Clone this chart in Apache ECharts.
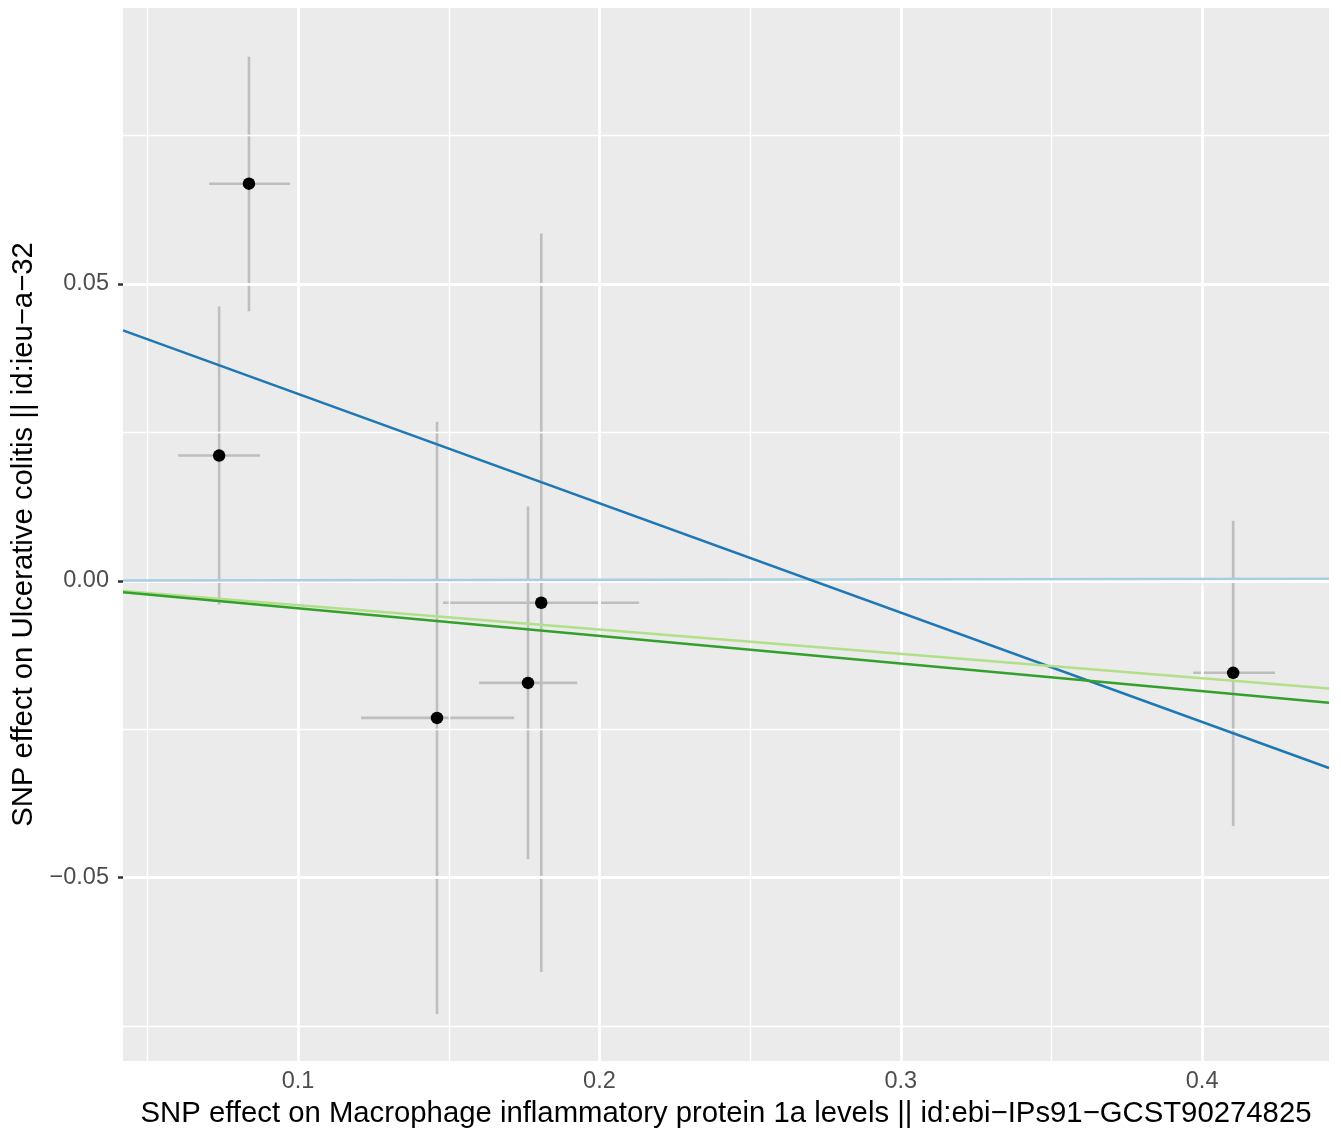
<!DOCTYPE html>
<html>
<head>
<meta charset="utf-8">
<script src="https://cdn.jsdelivr.net/npm/echarts@6/dist/echarts.min.js"></script>
<style>
  html, body { margin: 0; padding: 0; background: #ffffff; }
  #chart_container { width: 1341px; height: 1135px; }
</style>
</head>
<body>
<div id="chart_container"></div>
<script>
"use strict";

// SNP estimates
const snpX  = [0.0837, 0.0738, 0.1461, 0.1763, 0.1807, 0.4103];
const snpY  = [0.0669, 0.0211, -0.0231, -0.0172, -0.0037, -0.0155];
const xLow  = [0.0705, 0.0602, 0.1209, 0.1601, 0.1481, 0.3970];
const xHigh = [0.0973, 0.0874, 0.1717, 0.1926, 0.2132, 0.4242];
const yLow  = [0.0454, -0.0040, -0.0730, -0.0469, -0.0659, -0.0413];
const yHigh = [0.0883, 0.0462, 0.0268, 0.0125, 0.0585, 0.0101];

// MR fits
const methods    = ["Inverse variance weighted", "MR Egger", "Simple mode", "Weighted median"];
const slopes     = [0.0008, -0.1842, -0.0410, -0.0465];
const intercepts = [0, 0.0499, 0, 0];
const lineColors = ["#a6cee3", "#1f78b4", "#b2df8a", "#33a02c"];

// axes
const xMin = 0.0419, xMax = 0.4421;
const yMin = -0.0809, yMax = 0.0965;
const xTicks = [0.1, 0.2, 0.3, 0.4];
const xMinor = [0.05, 0.15, 0.25, 0.35];
const yTicks = [-0.05, 0, 0.05];
const yMinor = [-0.075, -0.025, 0.025, 0.075];

const xTitle = "SNP effect on Macrophage inflammatory protein 1a levels || id:ebi\u2212IPs91\u2212GCST90274825";
const yTitle = "SNP effect on Ulcerative colitis || id:ieu\u2212a\u221232";

const FONT = "Liberation Sans, Arial, Helvetica, sans-serif";

let minus = (s) => s.replace("-", "\u2212");

let pageLoaded = () => {
    let chartDom = document.getElementById('chart_container');
    let myChart = echarts.init(chartDom, null, { renderer: 'canvas' });

    let gridLines = [];
    xMinor.forEach(v => gridLines.push({ xAxis: v, lineStyle: { width: 1.4 } }));
    yMinor.forEach(v => gridLines.push({ yAxis: v, lineStyle: { width: 1.4 } }));
    xTicks.forEach(v => gridLines.push({ xAxis: v, lineStyle: { width: 2.8 } }));
    yTicks.forEach(v => gridLines.push({ yAxis: v, lineStyle: { width: 2.8 } }));

    let barData = snpX.map((x, i) => [x, snpY[i], xLow[i], xHigh[i], yLow[i], yHigh[i]]);

    let fitSeries = methods.map((m, i) => ({
        name: m,
        type: 'line',
        silent: true,
        symbol: 'none',
        z: 5,
        clip: true,
        lineStyle: { color: lineColors[i], width: 2.5 },
        data: [[xMin, intercepts[i] + slopes[i] * xMin], [xMax, intercepts[i] + slopes[i] * xMax]]
    }));

    let optEchart = {
        animation: false,
        backgroundColor: '#ffffff',
        grid: {
            left: 123, right: 12, top: 8, bottom: 74,
            show: true, backgroundColor: '#EBEBEB', borderWidth: 0
        },
        xAxis: {
            type: 'value', min: xMin, max: xMax,
            axisLine: { show: false },
            splitLine: { show: false },
            axisTick: { show: true, customValues: xTicks, length: 5, lineStyle: { color: '#333333', width: 2.5 } },
            axisLabel: {
                customValues: xTicks, color: '#4D4D4D', fontSize: 23.5, fontFamily: FONT, margin: 9,
                formatter: (v) => minus(v.toFixed(1))
            },
            name: xTitle, nameLocation: 'middle', nameGap: 38,
            nameTextStyle: { color: '#000000', fontSize: 29.3, fontFamily: FONT }
        },
        yAxis: {
            type: 'value', min: yMin, max: yMax,
            axisLine: { show: false },
            splitLine: { show: false },
            axisTick: { show: true, customValues: yTicks, length: 5, lineStyle: { color: '#333333', width: 2.5 } },
            axisLabel: {
                customValues: yTicks, color: '#4D4D4D', fontSize: 23.5, fontFamily: FONT, margin: 14,
                formatter: (v) => minus(v.toFixed(2))
            },
            name: yTitle, nameLocation: 'middle', nameGap: 82,
            nameTextStyle: { color: '#000000', fontSize: 29.3, fontFamily: FONT }
        },
        series: [
            {
                type: 'line', silent: true, data: [], z: 1,
                markLine: {
                    silent: true, symbol: 'none', label: { show: false }, precision: 4,
                    lineStyle: { color: '#FFFFFF', type: 'solid' },
                    data: gridLines
                }
            },
            {
                type: 'custom', silent: true, z: 2,
                data: barData,
                encode: { x: 0, y: 1 },
                renderItem: (params, api) => {
                    let c = api.coord([api.value(0), api.value(1)]);
                    let l = api.coord([api.value(2), api.value(1)]);
                    let r = api.coord([api.value(3), api.value(1)]);
                    let b = api.coord([api.value(0), api.value(4)]);
                    let t = api.coord([api.value(0), api.value(5)]);
                    let st = { stroke: '#BEBEBE', lineWidth: 2.6 };
                    return {
                        type: 'group',
                        children: [
                            { type: 'line', shape: { x1: c[0], y1: b[1], x2: c[0], y2: t[1] }, style: st },
                            { type: 'line', shape: { x1: l[0], y1: c[1], x2: r[0], y2: c[1] }, style: st }
                        ]
                    };
                }
            },
            {
                type: 'scatter', silent: true, z: 3,
                symbol: 'circle', symbolSize: 12.5,
                itemStyle: { color: '#000000', opacity: 1 },
                data: snpX.map((x, i) => [x, snpY[i]])
            }
        ].concat(fitSeries)
    };

    optEchart && myChart.setOption(optEchart);
    console.log(`echart config and creation complete`);
};

window.addEventListener('load', pageLoaded, false);
</script>
</body>
</html>
